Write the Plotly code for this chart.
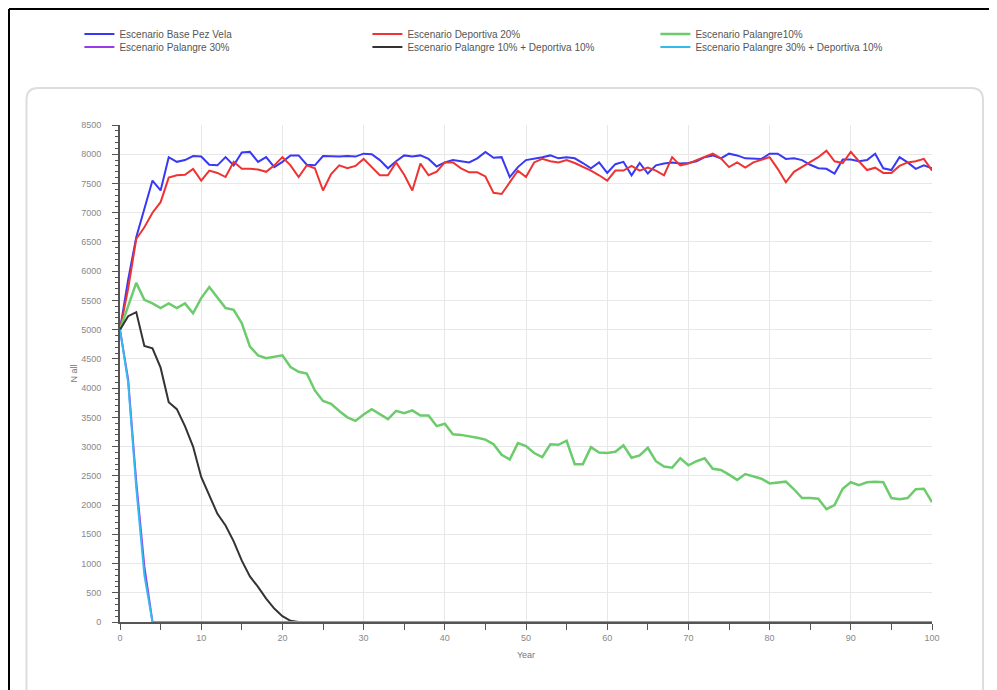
import plotly.graph_objects as go

years = list(range(0, 101))

names = [
    "Escenario Base Pez Vela",
    "Escenario Deportiva 20%",
    "Escenario Palangre10%",
    "Escenario Palangre 30%",
    "Escenario Palangre 10% + Deportiva 10%",
    "Escenario Palangre 30% + Deportiva 10%",
]

base = [5000, 5850, 6580, 7050, 7550, 7380, 7950, 7870, 7900, 7970,
        7960, 7820, 7810, 7950, 7810, 8030, 8040, 7870, 7950, 7780,
        7870, 7980, 7980, 7820, 7810, 7970, 7960, 7960, 7970, 7960,
        8010, 8000, 7900, 7760, 7880, 7980, 7960, 7980, 7920, 7790,
        7860, 7900, 7880, 7860, 7930, 8040, 7940, 7950, 7610, 7780,
        7900, 7920, 7950, 7980, 7930, 7950, 7930, 7850, 7760, 7860,
        7680, 7830, 7870, 7640, 7850, 7670, 7810, 7840, 7860, 7840,
        7850, 7880, 7950, 7980, 7930, 8010, 7980, 7930, 7920, 7920,
        8010, 8010, 7920, 7930, 7900, 7820, 7760, 7750, 7670, 7910,
        7910, 7880, 7900, 8010, 7760, 7730, 7950, 7860, 7750, 7810,
        7760]

deportiva20 = [5000, 5700, 6550, 6750, 7000, 7180, 7600, 7640, 7650, 7750,
               7550, 7720, 7680, 7610, 7870, 7750, 7750, 7740, 7700, 7810,
               7950, 7810, 7610, 7810, 7760, 7380, 7660, 7810, 7760, 7800,
               7920, 7780, 7640, 7640, 7860, 7650, 7380, 7840, 7640, 7700,
               7860, 7860, 7760, 7690, 7690, 7620, 7340, 7320, 7520, 7720,
               7610, 7860, 7920, 7880, 7860, 7900, 7850, 7790, 7720, 7640,
               7550, 7720, 7720, 7800, 7720, 7770, 7720, 7640, 7950, 7810,
               7840, 7900, 7950, 8010, 7930, 7780, 7860, 7770, 7860, 7900,
               7950, 7750, 7520, 7700, 7780, 7860, 7950, 8060, 7880, 7850,
               8040, 7880, 7730, 7770, 7680, 7680, 7800, 7860, 7880, 7920,
               7720]

palangre10 = [5000, 5400, 5800, 5510, 5450, 5370, 5450, 5370, 5450, 5280,
              5540, 5730, 5540, 5370, 5340, 5110, 4710, 4560, 4510, 4530,
              4560, 4360, 4280, 4250, 3960, 3780, 3730, 3610, 3500, 3440,
              3550, 3640, 3550, 3470, 3610, 3570, 3620, 3530, 3530, 3350,
              3390, 3210, 3200, 3180, 3150, 3120, 3040, 2860, 2780, 3060,
              3010, 2890, 2820, 3040, 3030, 3100, 2700, 2700, 2990, 2900,
              2890, 2910, 3020, 2810, 2850, 2980, 2750, 2660, 2640, 2800,
              2680, 2750, 2800, 2620, 2600, 2520, 2430, 2530, 2490, 2450,
              2370, 2390, 2400, 2270, 2120, 2120, 2110, 1930, 2000, 2280,
              2390, 2340, 2390, 2400, 2390, 2120, 2100, 2120, 2270, 2280,
              2050]

palangre30 = [5000, 4150, 2400, 950, 0] + [0] * 96

palangre10_dep10 = [5000, 5230, 5300, 4720, 4680, 4350, 3760, 3640, 3350, 3000,
                    2480, 2150, 1850, 1650, 1380, 1050, 780, 600, 400, 230,
                    100, 20, 0] + [0] * 78

palangre30_dep10 = [5000, 4100, 2300, 800, 0] + [0] * 96

series = [base, deportiva20, palangre10, palangre30, palangre10_dep10, palangre30_dep10]
colors = ["#3838f5", "#ee3333", "#6ccc6c", "#9a3ae8", "#333333", "#33bbee"]
widths = [2, 2, 2.5, 2, 2, 2]
legends = ["legend", "legend", "legend", "legend2", "legend2", "legend2"]

FONT = "Liberation Sans"

fig = go.Figure()
for name, vals, col, w, lg in zip(names, series, colors, widths, legends):
    fig.add_trace(go.Scatter(
        x=years, y=vals, mode="lines", name=name,
        line=dict(color=col, width=w), legend=lg,
    ))

axis_common = dict(
    showline=True, linecolor="#555555", linewidth=2,
    ticks="outside", tickcolor="#555555", ticklen=6, tickwidth=1,
    showgrid=True, gridcolor="#e8e8e8", gridwidth=1,
    zeroline=False,
    tickfont=dict(family=FONT, size=9, color="#888888"),
)

fig.update_xaxes(
    range=[0, 100], tick0=0, dtick=10,
    minor=dict(dtick=5, ticks="outside", ticklen=6, tickcolor="#555555", showgrid=False),
    title=dict(text="Year", font=dict(family=FONT, size=9, color="#777777"), standoff=10),
    **axis_common,
)
fig.update_yaxes(
    range=[0, 8500], tick0=0, dtick=500,
    minor=dict(dtick=100, ticks="outside", ticklen=3, tickcolor="#555555", showgrid=False),
    ticklabelstandoff=9,
    title=dict(text="N all", font=dict(family=FONT, size=9, color="#777777"), standoff=2),
    **axis_common,
)

leg_common = dict(
    orientation="h", xanchor="left", yanchor="middle",
    font=dict(family=FONT, size=10, color="#555555"),
    bgcolor="rgba(0,0,0,0)", entrywidth=243, entrywidthmode="pixels",
    itemclick=False, itemdoubleclick=False,
)

fig.update_layout(
    width=997, height=690,
    margin=dict(l=112, r=73, t=117, b=76),
    paper_bgcolor="white", plot_bgcolor="white",
    font=dict(family=FONT),
    showlegend=True,
    legend=dict(x=-0.050, y=(622 - 34) / 497, **leg_common),
    legend2=dict(x=-0.050, y=(622 - 47) / 497, **leg_common),
    shapes=[
        dict(type="path", xref="paper", yref="paper",
             path="M -0.1005 1.0745 L 1.0480 1.0745 Q 1.0628 1.0745 1.0628 1.0503 "
                  "L 1.0628 -0.2 L -0.1152 -0.2 L -0.1152 1.0503 Q -0.1152 1.0745 -0.1005 1.0745 Z",
             line=dict(color="#dddddd", width=2), fillcolor="rgba(0,0,0,0)", layer="below"),
        dict(type="line", xref="paper", yref="paper", x0=-0.1367, x1=-0.1367, y0=-0.2, y1=1.2334,
             line=dict(color="black", width=2)),
        dict(type="line", xref="paper", yref="paper", x0=-0.1367, x1=1.1, y0=1.2334, y1=1.2334,
             line=dict(color="black", width=2)),
    ],
)

fig.write_html("out.html")
